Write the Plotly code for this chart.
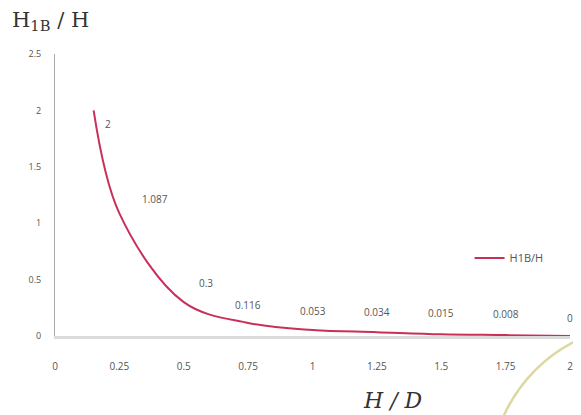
import plotly.graph_objects as go

hd = [0.15, 0.25, 0.5, 0.75, 1.0, 1.25, 1.5, 1.75, 2.0]
h1b = [2.0, 1.087, 0.3, 0.116, 0.053, 0.034, 0.015, 0.008, 0.0]
labels = ["2", "1.087", "0.3", "0.116", "0.053", "0.034", "0.015", "0.008", "0"]
x_ticks = [0, 0.25, 0.5, 0.75, 1, 1.25, 1.5, 1.75, 2]
x_tick_text = ["0", "0.25", "0.5", "0.75", "1", "1.25", "1.5", "1.75", "2"]
y_ticks = [0, 0.5, 1, 1.5, 2, 2.5]
y_tick_text = ["0", "0.5", "1", "1.5", "2", "2.5"]

# label offsets (px) relative to each point
label_dx = [14, 36, 22, 0, 0, 0, 0, 0, 0]
label_dy = [-14, 14, 19, 18, 19, 20, 21, 21, 18]

LINE = "#c8305a"

fig = go.Figure()
fig.add_trace(go.Scatter(
    x=hd, y=h1b, mode="lines", name="H1B/H",
    line=dict(color=LINE, width=2, shape="spline", smoothing=1.0),
))

for x, y, t, dx, dy in zip(hd, h1b, labels, label_dx, label_dy):
    fig.add_annotation(x=x, y=y, text=t, showarrow=False, xshift=dx, yshift=dy,
                       font=dict(family="Open Sans", size=10, color="#555"))

fig.add_annotation(xref="paper", yref="paper", x=-0.088, y=1.065, xanchor="left",
                   yanchor="bottom", showarrow=False,
                   text="H<sub>1B</sub> / H",
                   font=dict(family="DejaVu Serif", size=21, color="#333"))
fig.add_annotation(xref="paper", yref="paper", x=0.656, y=-0.227, xanchor="center",
                   yanchor="middle", showarrow=False,
                   text="<i>H / D</i>",
                   font=dict(family="DejaVu Serif", size=22, color="#333"))

fig.add_shape(type="circle", xref="paper", yref="paper",
              x0=0.845, x1=1.44, y0=-1.053, y1=0.038,
              line=dict(color="#dcd8a2", width=2.5), layer="below")

fig.update_layout(
    width=573, height=407,
    margin=dict(l=47, r=8, t=46, b=79),
    paper_bgcolor="white", plot_bgcolor="white",
    showlegend=True,
    legend=dict(x=0.805, y=0.277, xanchor="left", yanchor="middle",
                font=dict(family="Open Sans", size=11, color="#555"),
                bgcolor="rgba(0,0,0,0)"),
    xaxis=dict(range=[0, 2], tickvals=x_ticks, ticktext=x_tick_text,
               showgrid=False, zeroline=False, showline=True,
               linecolor="#dcdcdc", linewidth=3, ticks="outside", ticklen=19,
               tickcolor="rgba(0,0,0,0)",
               tickfont=dict(family="Open Sans", size=10, color="#555"),
               fixedrange=True),
    yaxis=dict(range=[0, 2.5], tickvals=y_ticks, ticktext=y_tick_text,
               showgrid=False, zeroline=False, showline=True,
               linecolor="#a8a8a8", linewidth=1, ticks="outside",
               ticklen=11, tickcolor="rgba(0,0,0,0)",
               tickfont=dict(family="Open Sans", size=9, color="#555"),
               fixedrange=True),
)

fig.write_html("out.html")
